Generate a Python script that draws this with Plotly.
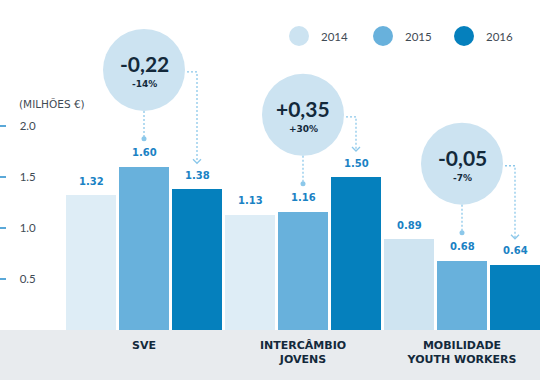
import plotly.graph_objects as go

# ---------------- data ----------------
categories = ["SVE", "INTERCÂMBIO<br>JOVENS", "MOBILIDADE<br>YOUTH WORKERS"]
years = ["2014", "2015", "2016"]
values_2014 = [1.32, 1.13, 0.89]
values_2015 = [1.60, 1.16, 0.68]
values_2016 = [1.38, 1.50, 0.64]
change_abs = ["-0,22", "+0,35", "-0,05"]
change_pct = ["-14%", "+30%", "-7%"]
y_tick_values = [0.5, 1.0, 1.5, 2.0]
y_tick_labels = ["0.5", "1.0", "1.5", "2.0"]
unit_label = "(MILHÕES €)"

# ---------------- style / geometry ----------------
W, H = 540, 380
PLOT_H = 330                     # plot area height (px), bottom margin grey band
Y_PX = 102.0                     # px per unit on y
X_PX = 159.0                     # px per category step on x
X0_PX = 144.0                    # pixel position of first category
PY = 1.0 / Y_PX                  # data units per pixel (y)
PXX = 1.0 / X_PX                 # data units per pixel (x)
BAR_W = 50 * PXX
STEP = 53 * PXX                  # distance between bar centers inside a group

col_2014 = ["#deedf6", "#deedf6", "#cfe4f1"]
col_2015 = "#68b1dc"
col_2016 = "#0580bd"
legend_cols = ["#cce3f1", "#68b1dc", "#0580bd"]
bubble_col = "#cce3f1"
dot_col = "#8cc8ea"
dark = "#13293b"
val_col = "#1a82c4"
grey_txt = "#3f4b55"
band = "#e8ebee"

x_pos = list(range(len(categories)))
series = [values_2014, values_2015, values_2016]
colors = [col_2014, col_2015, col_2016]
offsets = [-STEP, 0.0, STEP]

fig = go.Figure()
for yr, vals, col, off in zip(years, series, colors, offsets):
    fig.add_trace(go.Bar(
        x=x_pos, y=vals, name=yr, width=BAR_W, offset=off - BAR_W / 2,
        marker=dict(color=col, line=dict(width=0)), showlegend=False,
        hoverinfo="x+y",
    ))

annotations = []
shapes = []

# value labels above bars
for vals, off in zip(series, offsets):
    for xi, v in zip(x_pos, vals):
        annotations.append(dict(
            x=xi + off, y=v, xref="x", yref="y", yshift=14,
            text=f"<b>{v:.2f}</b>", showarrow=False,
            font=dict(family="DejaVu Sans", size=10, color=val_col),
            xanchor="center", yanchor="middle"))

# change bubbles
R = 41
dash = "2px,2px"
for xi, a, p, v15, v16 in zip(x_pos, change_abs, change_pct, values_2015, values_2016):
    cy = v15 + 0.95
    cx = xi
    shapes.append(dict(type="circle", xref="x", yref="y",
                       xsizemode="pixel", ysizemode="pixel",
                       xanchor=cx, yanchor=cy, x0=-R, x1=R, y0=-R, y1=R,
                       fillcolor=bubble_col, line=dict(width=0), layer="above"))
    annotations.append(dict(x=cx, y=cy, xref="x", yref="y", yshift=6,
                            text=f"<b>{a}</b>", showarrow=False,
                            font=dict(family="Lato", size=21, color=dark)))
    annotations.append(dict(x=cx, y=cy, xref="x", yref="y", yshift=-14,
                            text=f"<b>{p}</b>", showarrow=False,
                            font=dict(family="DejaVu Sans", size=9, color=dark)))
    # vertical dotted line down to dot above 2015 bar
    dot_y = v15 + 28 * PY
    shapes.append(dict(type="line", xref="x", yref="y",
                       x0=cx, x1=cx, y0=cy - R * PY, y1=dot_y,
                       line=dict(color=dot_col, width=1.3, dash=dash)))
    shapes.append(dict(type="circle", xref="x", yref="y",
                       xsizemode="pixel", ysizemode="pixel",
                       xanchor=cx, yanchor=dot_y, x0=-2.5, x1=2.5, y0=-2.5, y1=2.5,
                       fillcolor=dot_col, line=dict(width=0)))
    # elbow dotted arrow to 2016 bar
    hx0 = cx + (R + 2) * PXX
    hx1 = xi + STEP
    hy = cy - 2 * PY
    tip = v16 + 26 * PY
    shapes.append(dict(type="path", xref="x", yref="y",
                       path=f"M {hx0},{hy} L {hx1},{hy} L {hx1},{tip}",
                       line=dict(color=dot_col, width=1.3, dash=dash)))
    shapes.append(dict(type="path", xref="x", yref="y",
                       path=f"M {hx1 - 4 * PXX},{tip + 4 * PY} L {hx1},{tip} L {hx1 + 4 * PXX},{tip + 4 * PY}",
                       line=dict(color=dot_col, width=1.3)))

# legend (circles + labels)
leg_x = [299, 383, 464]
leg_y = (PLOT_H - 36) / PLOT_H
for yr, col, lx in zip(years, legend_cols, leg_x):
    shapes.append(dict(type="circle", xref="paper", yref="paper",
                       xsizemode="pixel", ysizemode="pixel",
                       xanchor=lx / W, yanchor=leg_y, x0=-10, x1=10, y0=-10, y1=10,
                       fillcolor=col, line=dict(width=0)))
    annotations.append(dict(x=(lx + 20) / W, y=leg_y, xref="paper", yref="paper",
                            text=yr, showarrow=False, xanchor="left", yanchor="middle",
                            font=dict(family="Lato", size=11.5, color=grey_txt)))

# unit label
annotations.append(dict(x=17 / W, y=(PLOT_H - 104) / PLOT_H, xref="paper", yref="paper",
                        text=unit_label, showarrow=False, xanchor="left", yanchor="middle",
                        font=dict(family="DejaVu Sans", size=10.5, color=grey_txt)))

fig.update_layout(
    width=W, height=H,
    margin=dict(l=0, r=0, t=0, b=H - PLOT_H, pad=0),
    paper_bgcolor=band, plot_bgcolor="white",
    barmode="overlay", bargap=0,
    shapes=shapes, annotations=annotations,
    xaxis=dict(range=[-X0_PX / X_PX, (W - X0_PX) / X_PX],
               tickvals=x_pos, ticktext=[f"<b>{c}</b>" for c in categories],
               tickfont=dict(family="DejaVu Sans", size=11, color=dark),
               showgrid=False, zeroline=False, showline=False, ticks="",
               ticklabelstandoff=7, fixedrange=True),
    yaxis=dict(range=[0, PLOT_H / Y_PX],
               tickvals=y_tick_values, ticktext=y_tick_labels,
               tickfont=dict(family="Lato", size=11.5, color=grey_txt),
               ticks="inside", ticklen=6, tickwidth=2, tickcolor="#5aa8d8",
               ticklabelposition="inside", ticklabelstandoff=13,
               showgrid=False, zeroline=False, showline=False, fixedrange=True),
)

fig.write_html("out.html", config={"displayModeBar": False},
               post_script="document.body.style.margin='0';")
